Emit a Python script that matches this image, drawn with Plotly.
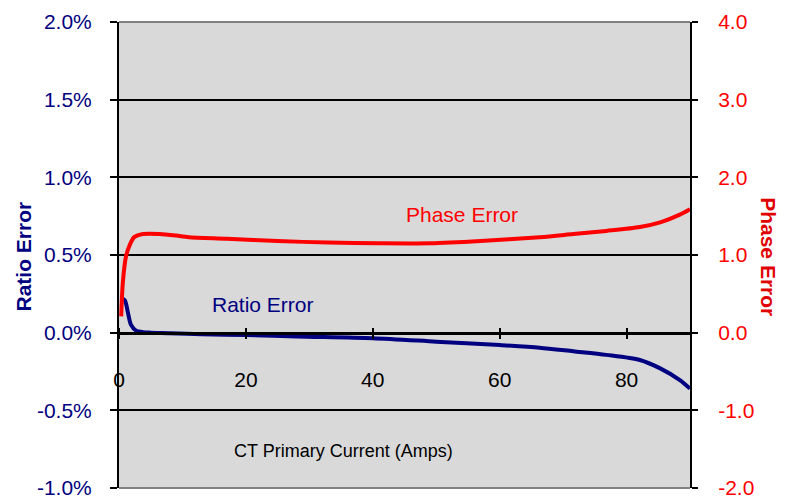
import plotly.graph_objects as go

# CT primary current (A) and ratio error (%)
x_ratio = [0.2, 0.9, 1.4, 1.9, 2.7, 3.8, 5, 8, 13, 20, 28, 40, 50, 60, 66.3, 71.6, 76.8, 82.1, 85.3, 88.4, 90]
ratio_err = [0.22, 0.21, 0.13, 0.05, 0.013, 0.003, 0.0, -0.003, -0.01, -0.015, -0.025, -0.036,
             -0.058, -0.08, -0.097, -0.12, -0.143, -0.176, -0.23, -0.305, -0.36]

# CT primary current (A) and phase error
x_phase = [0.35, 0.6, 1.1, 1.7, 2.4, 3.8, 6.4, 9, 11, 17, 25, 33, 41, 49, 57, 66.3, 71.6, 76.8,
           82.1, 85.3, 88.4, 90]
phase_err = [0.21, 0.64, 0.98, 1.13, 1.23, 1.27, 1.27, 1.25, 1.23, 1.21, 1.18, 1.16, 1.15, 1.15,
             1.18, 1.23, 1.27, 1.31, 1.36, 1.42, 1.52, 1.59]

x_ticks = [0, 20, 40, 60, 80]
y_left_ticks = [-1.0, -0.5, 0.0, 0.5, 1.0, 1.5, 2.0]
y_left_labels = ["-1.0%", "-0.5%", "0.0%", "0.5%", "1.0%", "1.5%", "2.0%"]
y_right_ticks = [-2, -1, 0, 1, 2, 3, 4]
y_right_labels = ["-2.0", "-1.0", "0.0", "1.0", "2.0", "3.0", "4.0"]

NAVY = "#000080"
RED = "#FF0000"
FONT = "Liberation Sans, Arial, sans-serif"

fig = go.Figure()
fig.add_trace(go.Scatter(x=x_ratio, y=ratio_err, mode="lines", name="Ratio Error",
                         line=dict(color=NAVY, width=4, shape="spline", smoothing=0.8),
                         yaxis="y"))
fig.add_trace(go.Scatter(x=x_phase, y=phase_err, mode="lines", name="Phase Error",
                         line=dict(color=RED, width=4, shape="spline", smoothing=0.8),
                         yaxis="y2"))
# dummy trace to activate xaxis3 (tick marks above the x axis line)
fig.add_trace(go.Scatter(x=[None], y=[None], xaxis="x3", yaxis="y", showlegend=False, hoverinfo="skip"))

# page body adds an 8px offset, so the figure is 8px smaller and margins shifted
fig.update_layout(
    width=785, height=492,
    margin=dict(l=111, r=103, t=14, b=12, autoexpand=False),
    paper_bgcolor="white",
    plot_bgcolor="#D9D9D9",
    showlegend=False,
    font=dict(family=FONT, size=21, color="black"),
    xaxis=dict(
        range=[0, 90], tickvals=x_ticks, ticktext=[str(v) for v in x_ticks],
        showgrid=False, zeroline=False,
        showline=True, linecolor="black", linewidth=2.5,
        anchor="free", position=1/3,
        ticks="outside", ticklen=5, tickwidth=1.5, tickcolor="black",
        ticklabelstandoff=22,
        tickfont=dict(size=21, color="black"),
    ),
    xaxis3=dict(
        range=[0, 90], tickvals=x_ticks, overlaying="x", matches="x",
        anchor="free", position=1/3, side="top",
        showticklabels=False, showgrid=False, zeroline=False, showline=False,
        ticks="outside", ticklen=5, tickwidth=1.5, tickcolor="black",
    ),
    yaxis=dict(
        range=[-1, 2], tickvals=y_left_ticks, ticktext=y_left_labels,
        showgrid=True, gridcolor="black", gridwidth=1.5,
        zeroline=False,
        showline=True, linecolor="black", linewidth=2,
        ticks="outside", ticklen=7, tickwidth=1.5, tickcolor="black",
        ticklabelstandoff=14,
        tickfont=dict(size=21, color=NAVY),
    ),
    yaxis2=dict(
        range=[-2, 4], tickvals=y_right_ticks, ticktext=y_right_labels,
        overlaying="y", side="right", anchor="x",
        showgrid=False, zeroline=False,
        showline=True, linecolor="black", linewidth=2,
        ticks="outside", ticklen=6, tickwidth=1.5, tickcolor="black",
        ticklabelstandoff=16,
        tickfont=dict(size=21, color=RED),
    ),
)

# gray top/bottom border of plot area
fig.add_shape(type="line", xref="paper", yref="paper", x0=0, x1=1, y0=1, y1=1,
              line=dict(color="#808080", width=2))
fig.add_shape(type="line", xref="paper", yref="paper", x0=0, x1=1, y0=0, y1=0,
              line=dict(color="#808080", width=2))

annotations = [
    dict(text="Phase Error", x=0.601, y=0.586, font=dict(size=21, color=RED, family=FONT)),
    dict(text="Ratio Error", x=0.252, y=0.393, font=dict(size=21, color=NAVY, family=FONT)),
    dict(text="CT Primary Current (Amps)", x=0.394, y=0.079,
         font=dict(size=18, color="black", family=FONT)),
    dict(text="<b>Ratio Error</b>", x=-0.168, y=0.497, textangle=-90,
         font=dict(size=21, color=NAVY, family=FONT)),
    dict(text="<b>Phase Error</b>", x=1.137, y=0.497, textangle=90,
         font=dict(size=21, color="#E00000", family=FONT)),
]
for a in annotations:
    a.update(xref="paper", yref="paper", showarrow=False, xanchor="center", yanchor="middle")
fig.update_layout(annotations=annotations)

fig.write_html("out.html")
